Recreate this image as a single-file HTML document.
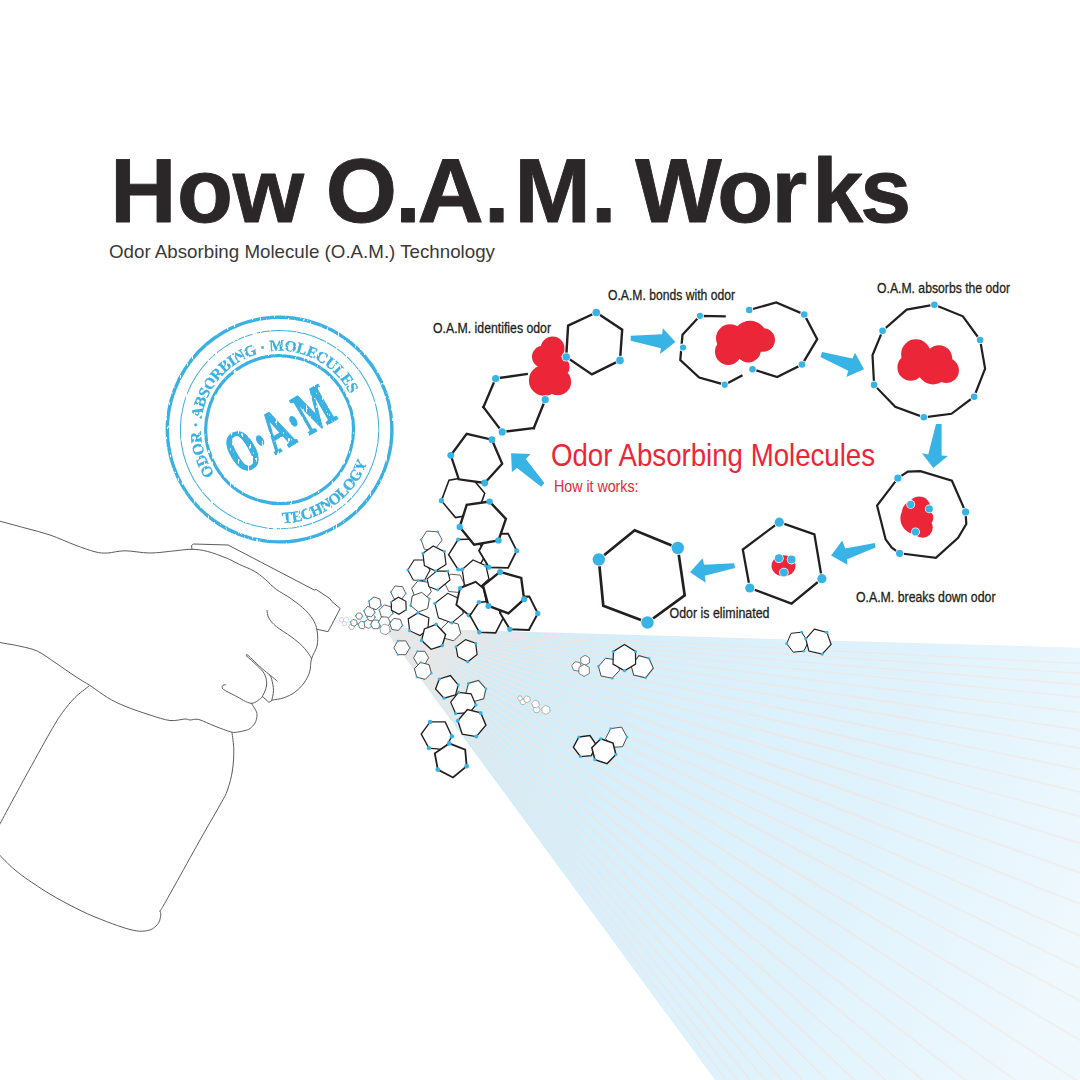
<!DOCTYPE html>
<html lang="en"><head><meta charset="utf-8"><title>How O.A.M. Works</title>
<style>
html,body{margin:0;padding:0;background:#fff;}
body{width:1080px;height:1080px;overflow:hidden;font-family:"Liberation Sans",sans-serif;}
svg{display:block;position:absolute;left:0;top:0;}
text{font-family:"Liberation Sans",sans-serif;}
.ser,.ser text{font-family:"Liberation Serif",serif;font-weight:bold;}
</style></head><body>
<svg width="1080" height="1080" viewBox="0 0 1080 1080">
<defs>
<linearGradient id="cg" gradientUnits="userSpaceOnUse" x1="400" y1="640" x2="1080" y2="900">
<stop offset="0" stop-color="#c6ebfb"/><stop offset="0.15" stop-color="#cdedfb"/><stop offset="0.4" stop-color="#d8f0fc"/><stop offset="0.7" stop-color="#e0f3fc"/><stop offset="0.9" stop-color="#e9f6fd"/><stop offset="1" stop-color="#eef8fd"/>
</linearGradient>
<radialGradient id="ag" gradientUnits="userSpaceOnUse" cx="385" cy="629" r="80">
<stop offset="0" stop-color="#e6e7e8" stop-opacity="1"/><stop offset="0.45" stop-color="#e6e7e8" stop-opacity="1"/><stop offset="1" stop-color="#e6e7e8" stop-opacity="0"/>
</radialGradient>
<linearGradient id="lg" gradientUnits="userSpaceOnUse" x1="400" y1="640" x2="1080" y2="900">
<stop offset="0" stop-color="#e6e7e8"/><stop offset="0.3" stop-color="#e8e7e7"/><stop offset="0.65" stop-color="#ece8e8"/><stop offset="1" stop-color="#f1eeee"/>
</linearGradient>
<filter id="grunge" x="-5%" y="-5%" width="110%" height="110%"><feTurbulence type="fractalNoise" baseFrequency="0.5 0.16" numOctaves="2" seed="7" result="n"/><feColorMatrix in="n" type="matrix" values="0 0 0 0 0  0 0 0 0 0  0 0 0 0 0  0 0 0 -14 10.1" result="m"/><feComposite in="SourceGraphic" in2="m" operator="in"/></filter>
<clipPath id="cc"><path d="M383 627.6 L1080 647.9 L1080 1080 L715.2 1080 Z"/></clipPath>
</defs>

<g clip-path="url(#cc)">
<rect x="380" y="620" width="700" height="460" fill="url(#lg)"/>
<g fill="url(#cg)" stroke="none">
<path d="M443 630.2 L1254.2 652.9 L1254.3 671.8Z"/>
<path d="M471 632.9 L1254.2 673.3 L1254.3 683.8Z"/>
<path d="M469.1 634.1 L1254.2 685.3 L1254.3 698Z"/>
<path d="M467 635.4 L1254.2 699.6 L1254.3 713.8Z"/>
<path d="M464.6 636.8 L1254.2 715.3 L1254.3 732.9Z"/>
<path d="M462 638.4 L1254.2 734.5 L1254.4 754.5Z"/>
<path d="M459.3 640 L1254.1 756.1 L1254.4 777.4Z"/>
<path d="M456.5 641.6 L1254.1 778.9 L1254.4 804.2Z"/>
<path d="M453.6 643.3 L1254.1 805.7 L1254.4 832.3Z"/>
<path d="M450.8 645 L1254.1 833.8 L1254.5 862.8Z"/>
<path d="M448.1 646.7 L1254 864.3 L1254.5 896.3Z"/>
<path d="M445.5 648.4 L1254 897.8 L1254.5 933.3Z"/>
<path d="M443.2 650.3 L1254 934.8 L1254.5 972.4Z"/>
<path d="M441.1 652.2 L1254 973.9 L1254.6 1012.3Z"/>
<path d="M439.5 654.1 L1253.9 1013.8 L1254.6 1052.6Z"/>
<path d="M438.2 656 L1253.9 1054 L1254.6 1093.4Z"/>
<path d="M437.1 658.3 L1253.9 1094.7 L1254.6 1142.6Z"/>
<path d="M436.3 661 L1253.9 1144 L1249.7 1192.4Z"/>
<path d="M435.9 663.9 L1248.8 1193.7 L1173.7 1192.4Z"/>
<path d="M435.7 667.1 L1172.8 1193.7 L1111.2 1192.4Z"/>
<path d="M435.7 670.3 L1110.3 1193.7 L1058 1192.5Z"/>
<path d="M435.8 673.7 L1057 1193.6 L1011.8 1192.5Z"/>
<path d="M436 677.1 L1010.7 1193.6 L972.3 1192.5Z"/>
<path d="M436.3 680.5 L971.2 1193.6 L937.7 1192.5Z"/>
<path d="M436.6 684 L936.6 1193.6 L907.6 1192.5Z"/>
<path d="M436.8 687.3 L906.4 1193.6 L882.2 1192.5Z"/>
<path d="M437 690.4 L881 1193.6 L861.3 1192.5Z"/>
<path d="M437.2 693.2 L860.2 1193.6 L842.9 1192.6Z"/>
<path d="M437.4 695.9 L841.6 1193.5 L826.6 1192.6Z"/>
<path d="M437.5 698.4 L825.4 1193.5 L812.7 1192.6Z"/>
<path d="M398 647.8 L811.5 1193.5 L798.2 1193Z"/>
</g>
</g>
<g fill="none" stroke="#5b5c5f" stroke-width="1" stroke-linecap="round" stroke-linejoin="round">
<path d="M-2 520.7C2.5 521.9 16.3 525.6 25 528C33.7 530.4 41.7 532.2 50 535C58.3 537.8 67.5 542.2 75 545C82.5 547.8 89.6 550.4 95 551.8C100.4 553.1 102.5 553.2 107.5 553C112.5 552.8 117.9 550.8 125 550.8C132.1 550.8 141.7 553 150 553C158.3 553 168 551.4 175 550.8C182 550.1 186.5 549.2 192 549.3C197.5 549.4 202.1 550 207.8 551.5C213.5 553 221.1 555.9 226.3 558C231.6 560.1 234.7 562.2 239.3 564.4C243.9 566.6 249.7 568.5 254 571C258.3 573.5 261.5 576.2 265.2 579.3C268.9 582.4 272 586.2 276.3 589.4C280.6 592.6 286.2 595.2 291.1 598.7C296 602.2 302 606.8 305.9 610.7C309.8 614.6 312.4 618.2 314.3 621.9C316.2 625.6 316.9 629 317.4 633C317.8 637 318 641.7 317 646C316 650.3 312.7 654.6 311.5 658.9C310.3 663.2 310.9 667.9 309.6 671.9C308.4 675.9 306.5 679.6 304 683C301.5 686.4 298.2 689.7 294.8 692.2C291.4 694.7 287.4 696.5 283.7 697.8C280 699.1 274.5 699.6 272.6 700"/>
<path d="M192 549.3 L191.5 545.5 L193.5 544 L228.1 545 L314.3 590 L316.1 589.4 L330 598.7 L331.9 601.5 L340.2 608.5 L328.1 631.7 L317 629.3"/>
<path d="M267 610.4C267.3 611.7 267.3 615.4 268.9 618.1C270.4 620.8 272.6 623.4 276.3 626.5C280 629.6 286.8 633.5 291.1 636.7C295.4 639.9 299.1 642.8 302.2 645.9C305.3 649 308.1 653 309.6 655.2C311.2 657.4 311.2 658.3 311.5 658.9"/>
<path d="M246.7 656.1C246.9 656 245.3 653.2 247.8 655.2C250.3 657.2 257.7 664.7 261.5 668.1C265.3 671.5 268.1 673.4 270.7 675.6C273.3 677.8 276.1 680.2 277.2 681.1"/>
<path d="M246.7 656.1C248.5 657.8 254.9 663.4 257.8 666.3C260.7 669.2 262.8 670.9 264.3 673.7C265.8 676.5 266.6 680.2 266.7 683C266.8 685.8 265.9 688.2 265.2 690.4C264.5 692.6 262.9 695.3 262.4 696.3"/>
<path d="M262.4 696.3 L268.9 702.4 L271.7 700.6"/>
<path d="M271.7 700.6C272 698.9 273.5 694 273.5 690.4C273.5 686.8 272.3 681.8 271.7 679.3C271.1 676.8 270.1 676.2 269.8 675.6"/>
<path d="M225.4 684.8C224.9 684.9 222.9 684.9 222.6 685.7C222.3 686.5 221.3 687.7 223.5 689.4C225.7 691.1 231 693.6 235.6 695.9C240.2 698.2 246.8 703.1 251.3 703.3C255.8 703.5 260.5 698 262.4 696.9"/>
<path d="M251.3 703.3C252.1 704.5 255 708.6 255.9 710.7C256.9 712.8 257.1 714 257 716C256.9 718 256.2 720.9 255 723C253.8 725.1 251.7 727.2 250 728.5C248.3 729.8 247 729.9 245 730.5C243 731.1 240.3 731.8 238 732C235.7 732.2 235.1 733 231.2 732C227.4 731 220.4 728.3 215 726.2C209.6 724.2 202.9 720.5 198.8 719.5C194.6 718.5 192.3 720.1 190 720C187.7 719.9 188.3 718.9 185 719C181.7 719.1 175.8 721.2 170 720.5C164.2 719.8 157.5 717.4 150 715C142.5 712.6 132.1 709.2 125 706.2C117.9 703.3 113.3 701 107.5 697.5C101.7 694 95.4 689 90 685.5C84.6 682 80.8 680.1 75 676.2C69.2 672.4 61.2 666.7 55 662.5C48.8 658.3 43.3 654 37.5 651.2C31.7 648.5 26.6 647.8 20 646.2C13.4 644.7 1.7 642.9 -2 642.2"/>
<path d="M88.8 686.2C86.5 688.1 79.4 693.1 75 697.5C70.6 701.9 66.7 706.7 62.5 712.5C58.3 718.3 56.2 721.7 50 732.5C43.8 743.3 33.7 761.7 25 777.5C16.3 793.3 2.5 819.2 -2 827.5"/>
<path d="M232 732.5C232.3 735.4 233.7 743.8 233.8 750C233.8 756.2 233.5 763.3 232.5 770C231.5 776.7 229.6 784.2 227.5 790C225.4 795.8 224.6 796.7 220 805C215.4 813.3 207.5 826.7 200 840C192.5 853.3 181 874.2 175 885C169 895.8 166.2 900.6 163.8 905C161.2 909.4 160.6 910.2 160 911.2"/>
<path d="M160 911.2C160.1 911.9 161 913.1 160.8 915C160.5 916.9 160.1 920.2 158.8 922.5C157.4 924.8 155.2 927.3 152.5 928.8C149.8 930.2 146.2 931.1 142.5 931.2C138.8 931.4 135 930.8 130 929.5C125 928.2 119.6 926.4 112.5 923.8C105.4 921.1 95.8 917.5 87.5 913.8C79.2 910 70.8 905.8 62.5 901.2C54.2 896.7 45.4 891.5 37.5 886.2C29.6 881 21.6 875.5 15 870C8.4 864.5 0.8 856.2 -2 853.5"/>
</g>
<g id="cluster">
<path d="M344.2 619.7 L342.9 621.9 L340.4 621.9 L339.2 619.7 L340.4 617.5 L342.9 617.5Z" fill="#fff" stroke="none"/>
<path d="M344.2 619.7 L342.9 621.9 L340.4 621.9 L339.2 619.7 L340.4 617.5 L342.9 617.5Z" fill="none" stroke="#b0b2b4" stroke-width="0.5" stroke-linejoin="miter"/>
<path d="M348.9 621 L346.6 623 L343.8 621.9 L343.3 619 L345.6 617 L348.4 618.1Z" fill="#fff" stroke="none"/>
<path d="M348.9 621 L346.6 623 L343.8 621.9 L343.3 619 L345.6 617 L348.4 618.1Z" fill="none" stroke="#b0b2b4" stroke-width="0.5" stroke-linejoin="miter"/>
<path d="M346.9 624 L345.3 625.9 L342.8 625.5 L341.9 623.2 L343.5 621.3 L346 621.7Z" fill="#fff" stroke="none"/>
<path d="M346.9 624 L345.3 625.9 L342.8 625.5 L341.9 623.2 L343.5 621.3 L346 621.7Z" fill="none" stroke="#b0b2b4" stroke-width="0.5" stroke-linejoin="miter"/>
<path d="M354.7 626.7 L353.2 629.3 L350.2 629.3 L348.7 626.7 L350.2 624.1 L353.2 624.1Z" fill="#fff" stroke="none"/>
<path d="M354.7 626.7 L353.2 629.3 L350.2 629.3 L348.7 626.7 L350.2 624.1 L353.2 624.1Z" fill="none" stroke="#8a8c8e" stroke-width="0.6" stroke-linejoin="miter"/>
<path d="M357.3 623.7 L354.8 626.2 L351.4 625.3 L350.5 621.9 L353 619.4 L356.4 620.3Z" fill="#fff" stroke="none"/>
<path d="M357.3 623.7 L354.8 626.2 L351.4 625.3 L350.5 621.9 L353 619.4 L356.4 620.3Z" fill="none" stroke="#4d4d4f" stroke-width="0.7" stroke-linejoin="miter"/>
<circle cx="357.3" cy="623.7" r="0.9" fill="#38b3e6"/>
<circle cx="350.5" cy="621.9" r="0.9" fill="#38b3e6"/>
<path d="M362.6 616.1 L360.9 619.1 L357.4 619.1 L355.6 616.1 L357.4 613.1 L360.9 613.1Z" fill="#fff" stroke="none"/>
<path d="M362.6 616.1 L360.9 619.1 L357.4 619.1 L355.6 616.1 L357.4 613.1 L360.9 613.1Z" fill="none" stroke="#4d4d4f" stroke-width="0.7" stroke-linejoin="miter"/>
<circle cx="362.6" cy="616.1" r="0.9" fill="#38b3e6"/>
<circle cx="355.6" cy="616.1" r="0.9" fill="#38b3e6"/>
<path d="M366.1 625.7 L363.6 628.8 L359.6 628.1 L358.3 624.3 L360.8 621.2 L364.8 621.9Z" fill="#fff" stroke="none"/>
<path d="M366.1 625.7 L363.6 628.8 L359.6 628.1 L358.3 624.3 L360.8 621.2 L364.8 621.9Z" fill="none" stroke="#4d4d4f" stroke-width="0.7" stroke-linejoin="miter"/>
<circle cx="366.1" cy="625.7" r="0.9" fill="#38b3e6"/>
<circle cx="358.3" cy="624.3" r="0.9" fill="#38b3e6"/>
<path d="M372.4 625.8 L368.7 628.4 L364.6 626.5 L364.2 622 L367.9 619.4 L372 621.3Z" fill="#fff" stroke="none"/>
<path d="M372.4 625.8 L368.7 628.4 L364.6 626.5 L364.2 622 L367.9 619.4 L372 621.3Z" fill="none" stroke="#4d4d4f" stroke-width="0.7" stroke-linejoin="miter"/>
<circle cx="372.4" cy="625.8" r="0.9" fill="#38b3e6"/>
<circle cx="364.2" cy="622" r="0.9" fill="#38b3e6"/>
<path d="M375.1 617.2 L373.1 620.7 L369.1 620.7 L367.1 617.2 L369.1 613.7 L373.1 613.7Z" fill="#fff" stroke="none"/>
<path d="M375.1 617.2 L373.1 620.7 L369.1 620.7 L367.1 617.2 L369.1 613.7 L373.1 613.7Z" fill="none" stroke="#4d4d4f" stroke-width="0.7" stroke-linejoin="miter"/>
<circle cx="375.1" cy="617.2" r="0.9" fill="#38b3e6"/>
<circle cx="367.1" cy="617.2" r="0.9" fill="#38b3e6"/>
<path d="M374.8 612.7 L371.3 616.9 L365.9 615.9 L364 610.7 L367.5 606.5 L372.9 607.5Z" fill="#fff" stroke="none"/>
<path d="M374.8 612.7 L371.3 616.9 L365.9 615.9 L364 610.7 L367.5 606.5 L372.9 607.5Z" fill="none" stroke="#4d4d4f" stroke-width="0.8" stroke-linejoin="miter"/>
<circle cx="374.8" cy="612.7" r="0.9" fill="#38b3e6"/>
<circle cx="364" cy="610.7" r="0.9" fill="#38b3e6"/>
<path d="M381.1 605.5 L376.1 609.7 L370 607.5 L368.9 601.1 L373.9 596.9 L380 599.1Z" fill="#fff" stroke="none"/>
<path d="M381.1 605.5 L376.1 609.7 L370 607.5 L368.9 601.1 L373.9 596.9 L380 599.1Z" fill="none" stroke="#4d4d4f" stroke-width="0.9" stroke-linejoin="miter"/>
<circle cx="381.1" cy="605.5" r="0.9" fill="#38b3e6"/>
<circle cx="368.9" cy="601.1" r="0.9" fill="#38b3e6"/>
<path d="M380.6 624.4 L378.1 628.7 L373.1 628.7 L370.6 624.4 L373.1 620.1 L378.1 620.1Z" fill="#fff" stroke="none"/>
<path d="M380.6 624.4 L378.1 628.7 L373.1 628.7 L370.6 624.4 L373.1 620.1 L378.1 620.1Z" fill="none" stroke="#4d4d4f" stroke-width="0.8" stroke-linejoin="miter"/>
<circle cx="380.6" cy="624.4" r="0.9" fill="#38b3e6"/>
<circle cx="370.6" cy="624.4" r="0.9" fill="#38b3e6"/>
<path d="M392.9 613.5 L387.9 618.5 L381.2 616.6 L379.3 609.9 L384.3 604.9 L391 606.8Z" fill="#fff" stroke="none"/>
<path d="M392.9 613.5 L387.9 618.5 L381.2 616.6 L379.3 609.9 L384.3 604.9 L391 606.8Z" fill="none" stroke="#4d4d4f" stroke-width="0.9" stroke-linejoin="miter"/>
<circle cx="392.9" cy="613.5" r="0.9" fill="#38b3e6"/>
<circle cx="379.3" cy="609.9" r="0.9" fill="#38b3e6"/>
<path d="M390.4 622.2 L387.4 627.4 L381.4 627.4 L378.4 622.2 L381.4 617 L387.4 617Z" fill="#fff" stroke="none"/>
<path d="M390.4 622.2 L387.4 627.4 L381.4 627.4 L378.4 622.2 L381.4 617 L387.4 617Z" fill="none" stroke="#4d4d4f" stroke-width="0.8" stroke-linejoin="miter"/>
<circle cx="390.4" cy="622.2" r="0.9" fill="#38b3e6"/>
<circle cx="378.4" cy="622.2" r="0.9" fill="#38b3e6"/>
<path d="M390.2 631.3 L386 634.8 L380.8 632.9 L379.8 627.5 L384 624 L389.2 625.9Z" fill="#fff" stroke="none"/>
<path d="M390.2 631.3 L386 634.8 L380.8 632.9 L379.8 627.5 L384 624 L389.2 625.9Z" fill="none" stroke="#8a8c8e" stroke-width="0.8" stroke-linejoin="miter"/>
<circle cx="390.2" cy="631.3" r="0.9" fill="#38b3e6"/>
<circle cx="379.8" cy="627.5" r="0.9" fill="#38b3e6"/>
<path d="M405.8 593.5 L401.5 599.6 L394 598.9 L390.8 592.1 L395.1 586 L402.6 586.7Z" fill="#fff" stroke="none"/>
<path d="M405.8 593.5 L401.5 599.6 L394 598.9 L390.8 592.1 L395.1 586 L402.6 586.7Z" fill="none" stroke="#4d4d4f" stroke-width="0.9" stroke-linejoin="miter"/>
<circle cx="405.8" cy="593.5" r="0.9" fill="#38b3e6"/>
<circle cx="390.8" cy="592.1" r="0.9" fill="#38b3e6"/>
<path d="M402.5 625.5 L398.3 630.5 L391.9 629.4 L389.7 623.3 L393.9 618.3 L400.3 619.4Z" fill="#fff" stroke="none"/>
<path d="M402.5 625.5 L398.3 630.5 L391.9 629.4 L389.7 623.3 L393.9 618.3 L400.3 619.4Z" fill="none" stroke="#4d4d4f" stroke-width="0.9" stroke-linejoin="miter"/>
<circle cx="402.5" cy="625.5" r="0.9" fill="#38b3e6"/>
<circle cx="389.7" cy="623.3" r="0.9" fill="#38b3e6"/>
<path d="M406.2 609.8 L399 614.3 L391.5 610.3 L391.2 601.8 L398.4 597.3 L405.9 601.3Z" fill="#fff" stroke="none"/>
<path d="M406.2 609.8 L399 614.3 L391.5 610.3 L391.2 601.8 L398.4 597.3 L405.9 601.3Z" fill="none" stroke="#231f20" stroke-width="1.2" stroke-linejoin="miter"/>
<circle cx="406.2" cy="609.8" r="0.9" fill="#38b3e6"/>
<circle cx="391.2" cy="601.8" r="0.9" fill="#38b3e6"/>
<path d="M409.8 647.8 L405.8 654.7 L397.8 654.7 L393.8 647.8 L397.8 640.9 L405.8 640.9Z" fill="#fff" stroke="none"/>
<path d="M409.8 647.8 L405.8 654.7 L397.8 654.7 L393.8 647.8 L397.8 640.9 L405.8 640.9Z" fill="none" stroke="#4d4d4f" stroke-width="0.9" stroke-linejoin="miter"/>
<circle cx="409.8" cy="647.8" r="1.1" fill="#38b3e6"/>
<circle cx="397.8" cy="654.7" r="1.1" fill="#38b3e6"/>
<circle cx="397.8" cy="640.9" r="1.1" fill="#38b3e6"/>
<path d="M428.6 657.8 L424.9 664.3 L417.4 664.3 L413.6 657.8 L417.4 651.3 L424.9 651.3Z" fill="#fff" stroke="none"/>
<path d="M428.6 657.8 L424.9 664.3 L417.4 664.3 L413.6 657.8 L417.4 651.3 L424.9 651.3Z" fill="none" stroke="#4d4d4f" stroke-width="0.9" stroke-linejoin="miter"/>
<circle cx="424.9" cy="664.3" r="1.1" fill="#38b3e6"/>
<circle cx="417.4" cy="651.3" r="1.1" fill="#38b3e6"/>
<path d="M431.4 673.2 L425.2 679.4 L416.7 677.1 L414.4 668.6 L420.6 662.4 L429.1 664.7Z" fill="#fff" stroke="none"/>
<path d="M431.4 673.2 L425.2 679.4 L416.7 677.1 L414.4 668.6 L420.6 662.4 L429.1 664.7Z" fill="none" stroke="#4d4d4f" stroke-width="1" stroke-linejoin="miter"/>
<circle cx="431.4" cy="673.2" r="1.2" fill="#38b3e6"/>
<circle cx="416.7" cy="677.1" r="1.2" fill="#38b3e6"/>
<circle cx="420.6" cy="662.4" r="1.2" fill="#38b3e6"/>
<path d="M421.1 539.6 L426.7 531.1 L437.8 531.8 L442.2 540 L434.4 550 L424.4 549.3Z" fill="#fff" stroke="none"/>
<path d="M421.1 539.6 L426.7 531.1 L437.8 531.8 L442.2 540 L434.4 550 L424.4 549.3Z" fill="none" stroke="#4d4d4f" stroke-width="0.9" stroke-linejoin="miter"/>
<circle cx="421.1" cy="539.6" r="1.2" fill="#38b3e6"/>
<circle cx="437.8" cy="531.8" r="1.2" fill="#38b3e6"/>
<path d="M407.8 570 L414 560 L423.3 560 L430 570 L424.4 580.4 L413.3 580Z" fill="#fff" stroke="none"/>
<path d="M407.8 570 L414 560 L423.3 560 L430 570 L424.4 580.4 L413.3 580Z" fill="none" stroke="#231f20" stroke-width="1.1" stroke-linejoin="miter"/>
<circle cx="407.8" cy="570" r="1.4" fill="#38b3e6"/>
<circle cx="424.4" cy="580.4" r="1.4" fill="#38b3e6"/>
<path d="M431.3 591.7 L424.9 599.4 L415.1 597.7 L411.7 588.3 L418.1 580.6 L427.9 582.3Z" fill="#fff" stroke="none"/>
<path d="M431.3 591.7 L424.9 599.4 L415.1 597.7 L411.7 588.3 L418.1 580.6 L427.9 582.3Z" fill="none" stroke="#4d4d4f" stroke-width="1" stroke-linejoin="miter"/>
<circle cx="424.9" cy="599.4" r="1.3" fill="#38b3e6"/>
<circle cx="418.1" cy="580.6" r="1.3" fill="#38b3e6"/>
<path d="M427.7 608.6 L418.3 612 L410.6 605.6 L412.3 595.8 L421.7 592.4 L429.4 598.8Z" fill="#fff" stroke="none"/>
<path d="M427.7 608.6 L418.3 612 L410.6 605.6 L412.3 595.8 L421.7 592.4 L429.4 598.8Z" fill="none" stroke="#4d4d4f" stroke-width="1" stroke-linejoin="miter"/>
<circle cx="410.6" cy="605.6" r="1.3" fill="#38b3e6"/>
<circle cx="429.4" cy="598.8" r="1.3" fill="#38b3e6"/>
<path d="M464.4 584.2 L458.6 592.4 L448.7 591.5 L444.4 582.4 L450.2 574.2 L460.1 575.1Z" fill="#fff" stroke="none"/>
<path d="M464.4 584.2 L458.6 592.4 L448.7 591.5 L444.4 582.4 L450.2 574.2 L460.1 575.1Z" fill="none" stroke="#4d4d4f" stroke-width="0.9" stroke-linejoin="miter"/>
<path d="M427.1 578.9 L436.7 571.1 L447.8 571.1 L450 580 L437.8 590 L428.9 586.7Z" fill="#fff" stroke="none"/>
<path d="M427.1 578.9 L436.7 571.1 L447.8 571.1 L450 580 L437.8 590 L428.9 586.7Z" fill="none" stroke="#231f20" stroke-width="1.1" stroke-linejoin="miter"/>
<circle cx="447.8" cy="571.1" r="1.4" fill="#38b3e6"/>
<circle cx="437.8" cy="590" r="1.4" fill="#38b3e6"/>
<path d="M422.9 553.3 L433.3 546 L444.4 551.6 L446 564.4 L435.6 571.1 L424.4 565.6Z" fill="#fff" stroke="none"/>
<path d="M422.9 553.3 L433.3 546 L444.4 551.6 L446 564.4 L435.6 571.1 L424.4 565.6Z" fill="none" stroke="#231f20" stroke-width="1.2" stroke-linejoin="miter"/>
<circle cx="422.9" cy="553.3" r="1.5" fill="#38b3e6"/>
<circle cx="444.4" cy="551.6" r="1.5" fill="#38b3e6"/>
<circle cx="435.6" cy="571.1" r="1.5" fill="#38b3e6"/>
<path d="M460.8 633.7 L453.7 640.8 L444 638.2 L441.4 628.5 L448.5 621.4 L458.2 624Z" fill="#fff" stroke="none"/>
<path d="M460.8 633.7 L453.7 640.8 L444 638.2 L441.4 628.5 L448.5 621.4 L458.2 624Z" fill="none" stroke="#4d4d4f" stroke-width="1" stroke-linejoin="miter"/>
<path d="M434.9 603.3 L447.8 593.3 L460 598.9 L463.3 613.3 L451.8 622.9 L438.4 617.8Z" fill="#fff" stroke="none"/>
<path d="M434.9 603.3 L447.8 593.3 L460 598.9 L463.3 613.3 L451.8 622.9 L438.4 617.8Z" fill="none" stroke="#231f20" stroke-width="1.1" stroke-linejoin="miter"/>
<circle cx="434.9" cy="603.3" r="1.6" fill="#38b3e6"/>
<circle cx="451.8" cy="622.9" r="1.6" fill="#38b3e6"/>
<path d="M417.8 612.9 L428.9 617.8 L427.8 630 L420 635.6 L409.6 630.7 L408.2 618.9Z" fill="#fff" stroke="none"/>
<path d="M417.8 612.9 L428.9 617.8 L427.8 630 L420 635.6 L409.6 630.7 L408.2 618.9Z" fill="none" stroke="#231f20" stroke-width="1.2" stroke-linejoin="miter"/>
<circle cx="417.8" cy="612.9" r="1.6" fill="#38b3e6"/>
<circle cx="409.6" cy="630.7" r="1.6" fill="#38b3e6"/>
<path d="M436.2 624.4 L445.6 634.4 L442.2 645.6 L431.1 649.3 L421.6 640.4 L424.4 628.9Z" fill="#fff" stroke="none"/>
<path d="M436.2 624.4 L445.6 634.4 L442.2 645.6 L431.1 649.3 L421.6 640.4 L424.4 628.9Z" fill="none" stroke="#231f20" stroke-width="1.4" stroke-linejoin="miter"/>
<circle cx="436.2" cy="624.4" r="1.8" fill="#38b3e6"/>
<circle cx="442.2" cy="645.6" r="1.8" fill="#38b3e6"/>
<circle cx="421.6" cy="640.4" r="1.8" fill="#38b3e6"/>
<path d="M458.1 539.6 L476.7 538.9 L486.2 554.1 L477 570 L458.1 569.6 L448.6 554.7Z" fill="#fff" stroke="none"/>
<path d="M458.1 539.6 L476.7 538.9 L486.2 554.1 L477 570 L458.1 569.6 L448.6 554.7Z" fill="none" stroke="#231f20" stroke-width="1.5" stroke-linejoin="miter"/>
<circle cx="458.1" cy="539.6" r="2" fill="#38b3e6"/>
<circle cx="458.1" cy="569.6" r="2" fill="#38b3e6"/>
<path d="M484.8 493.3 L477.2 513.9 L455.5 517.6 L441.4 500.7 L449 480.1 L470.7 476.4Z" fill="#fff" stroke="none"/>
<path d="M484.8 493.3 L477.2 513.9 L455.5 517.6 L441.4 500.7 L449 480.1 L470.7 476.4Z" fill="none" stroke="#231f20" stroke-width="1.6" stroke-linejoin="miter"/>
<circle cx="441.4" cy="500.7" r="2.6" fill="#38b3e6"/>
<path d="M462.2 569.6 L473 559.9 L485.9 565.6 L488.9 578.9 L478.5 588.5 L464.4 584.8Z" fill="#fff" stroke="none"/>
<path d="M462.2 569.6 L473 559.9 L485.9 565.6 L488.9 578.9 L478.5 588.5 L464.4 584.8Z" fill="none" stroke="#231f20" stroke-width="1.3" stroke-linejoin="miter"/>
<circle cx="462.2" cy="569.6" r="2" fill="#38b3e6"/>
<circle cx="485.9" cy="565.6" r="2" fill="#38b3e6"/>
<path d="M460 588.2 L475.6 581.9 L483.7 588.5 L487.4 605.6 L468.9 615.2 L456.3 604.8Z" fill="#fff" stroke="none"/>
<path d="M460 588.2 L475.6 581.9 L483.7 588.5 L487.4 605.6 L468.9 615.2 L456.3 604.8Z" fill="none" stroke="#231f20" stroke-width="1.8" stroke-linejoin="miter"/>
<circle cx="460" cy="588.2" r="2.2" fill="#38b3e6"/>
<circle cx="468.9" cy="615.2" r="2.2" fill="#38b3e6"/>
<path d="M478.9 602.2 L494.4 601.1 L503.3 617.8 L495.6 632.9 L479.3 632.2 L470 615.6Z" fill="#fff" stroke="none"/>
<path d="M478.9 602.2 L494.4 601.1 L503.3 617.8 L495.6 632.9 L479.3 632.2 L470 615.6Z" fill="none" stroke="#231f20" stroke-width="1.6" stroke-linejoin="miter"/>
<circle cx="478.9" cy="602.2" r="2.2" fill="#38b3e6"/>
<circle cx="479.3" cy="632.2" r="2.2" fill="#38b3e6"/>
<path d="M488.1 534 L508.1 533.7 L516.7 550.7 L508.1 567.8 L488.9 567.3 L479 550.7Z" fill="#fff" stroke="none"/>
<path d="M488.1 534 L508.1 533.7 L516.7 550.7 L508.1 567.8 L488.9 567.3 L479 550.7Z" fill="none" stroke="#231f20" stroke-width="1.8" stroke-linejoin="miter"/>
<circle cx="516.7" cy="550.7" r="2.5" fill="#38b3e6"/>
<circle cx="488.9" cy="567.3" r="2.5" fill="#38b3e6"/>
<path d="M508.9 596.7 L529.3 596.4 L537.8 613.4 L528.9 630 L509.9 629.3 L500 613Z" fill="#fff" stroke="none"/>
<path d="M508.9 596.7 L529.3 596.4 L537.8 613.4 L528.9 630 L509.9 629.3 L500 613Z" fill="none" stroke="#231f20" stroke-width="2" stroke-linejoin="miter"/>
<circle cx="537.8" cy="613.4" r="2.6" fill="#38b3e6"/>
<circle cx="509.9" cy="629.3" r="2.6" fill="#38b3e6"/>
<path d="M489.6 501.6 L505.9 518.9 L498.5 540.4 L474.1 544.8 L459.7 527 L466.7 504.8Z" fill="#fff" stroke="none"/>
<path d="M489.6 501.6 L505.9 518.9 L498.5 540.4 L474.1 544.8 L459.7 527 L466.7 504.8Z" fill="none" stroke="#231f20" stroke-width="2.4" stroke-linejoin="miter"/>
<circle cx="489.6" cy="501.6" r="3.2" fill="#38b3e6"/>
<circle cx="498.5" cy="540.4" r="3.2" fill="#38b3e6"/>
<circle cx="459.7" cy="527" r="3.2" fill="#38b3e6"/>
<path d="M500 571.9 L521.2 577.9 L524.1 599.2 L508.4 613.4 L488.4 605.9 L483 585.6Z" fill="#fff" stroke="none"/>
<path d="M500 571.9 L521.2 577.9 L524.1 599.2 L508.4 613.4 L488.4 605.9 L483 585.6Z" fill="none" stroke="#231f20" stroke-width="2.4" stroke-linejoin="miter"/>
<circle cx="500" cy="571.9" r="3" fill="#38b3e6"/>
<circle cx="524.1" cy="599.2" r="3" fill="#38b3e6"/>
<circle cx="488.4" cy="605.9" r="3" fill="#38b3e6"/>
<path d="M491.9 439.7 L502.2 463.7 L484.7 483 L458.8 479.3 L450.8 455.3 L466.7 433.8Z" fill="#fff" stroke="none"/>
<path d="M491.9 439.7 L502.2 463.7 L484.7 483 L458.8 479.3 L450.8 455.3 L466.7 433.8Z" fill="none" stroke="#231f20" stroke-width="2.3" stroke-linejoin="miter"/>
<circle cx="491.9" cy="439.7" r="3.4" fill="#38b3e6"/>
<circle cx="484.7" cy="483" r="3.4" fill="#38b3e6"/>
<circle cx="450.8" cy="455.3" r="3.4" fill="#38b3e6"/>
<path d="M456 646.7 L465.6 639.6 L475.6 643.3 L477.1 654.4 L467.8 661.8 L457.8 656.7Z" fill="#fff" stroke="none"/>
<path d="M456 646.7 L465.6 639.6 L475.6 643.3 L477.1 654.4 L467.8 661.8 L457.8 656.7Z" fill="none" stroke="#231f20" stroke-width="1.2" stroke-linejoin="miter"/>
<circle cx="456" cy="646.7" r="1.5" fill="#38b3e6"/>
<circle cx="475.6" cy="643.3" r="1.5" fill="#38b3e6"/>
<circle cx="467.8" cy="661.8" r="1.5" fill="#38b3e6"/>
<path d="M439.3 679 L450.4 675.6 L458.2 684.9 L455.6 694.8 L444 698.2 L435.6 688.9Z" fill="#fff" stroke="none"/>
<path d="M439.3 679 L450.4 675.6 L458.2 684.9 L455.6 694.8 L444 698.2 L435.6 688.9Z" fill="none" stroke="#231f20" stroke-width="1.3" stroke-linejoin="miter"/>
<circle cx="439.3" cy="679" r="1.6" fill="#38b3e6"/>
<circle cx="458.2" cy="684.9" r="1.6" fill="#38b3e6"/>
<circle cx="444" cy="698.2" r="1.6" fill="#38b3e6"/>
<path d="M468.4 683.4 L478.5 680.4 L485.9 688.9 L483.7 698.8 L474.1 701.5 L465.9 693.3Z" fill="#fff" stroke="none"/>
<path d="M468.4 683.4 L478.5 680.4 L485.9 688.9 L483.7 698.8 L474.1 701.5 L465.9 693.3Z" fill="none" stroke="#4d4d4f" stroke-width="1.1" stroke-linejoin="miter"/>
<circle cx="468.4" cy="683.4" r="1.3" fill="#38b3e6"/>
<circle cx="485.9" cy="688.9" r="1.3" fill="#38b3e6"/>
<path d="M458.5 692.3 L471.1 693.8 L475.9 704.9 L469.6 712.6 L455.6 713.6 L450.7 702.2Z" fill="#fff" stroke="none"/>
<path d="M458.5 692.3 L471.1 693.8 L475.9 704.9 L469.6 712.6 L455.6 713.6 L450.7 702.2Z" fill="none" stroke="#231f20" stroke-width="1.2" stroke-linejoin="miter"/>
<circle cx="458.5" cy="692.3" r="1.6" fill="#38b3e6"/>
<circle cx="475.9" cy="704.9" r="1.6" fill="#38b3e6"/>
<circle cx="455.6" cy="713.6" r="1.6" fill="#38b3e6"/>
<path d="M457.8 720.7 L467.4 709.6 L480.7 712.9 L485.9 725.2 L476.3 736.6 L462.2 734.1Z" fill="#fff" stroke="none"/>
<path d="M457.8 720.7 L467.4 709.6 L480.7 712.9 L485.9 725.2 L476.3 736.6 L462.2 734.1Z" fill="none" stroke="#231f20" stroke-width="1.4" stroke-linejoin="miter"/>
<circle cx="457.8" cy="720.7" r="2" fill="#38b3e6"/>
<circle cx="480.7" cy="712.9" r="2" fill="#38b3e6"/>
<circle cx="476.3" cy="736.6" r="2" fill="#38b3e6"/>
<path d="M430.1 721.9 L445.2 721.9 L451.9 736.3 L444.4 749.6 L428.9 748.1 L421.2 734.1Z" fill="#fff" stroke="none"/>
<path d="M430.1 721.9 L445.2 721.9 L451.9 736.3 L444.4 749.6 L428.9 748.1 L421.2 734.1Z" fill="none" stroke="#231f20" stroke-width="1.4" stroke-linejoin="miter"/>
<circle cx="430.1" cy="721.9" r="2.2" fill="#38b3e6"/>
<circle cx="451.9" cy="736.3" r="2.2" fill="#38b3e6"/>
<circle cx="428.9" cy="748.1" r="2.2" fill="#38b3e6"/>
<path d="M449.2 743.4 L465.2 749.6 L466.7 766.2 L453 777.5 L437.8 769.6 L434.8 753.3Z" fill="#fff" stroke="none"/>
<path d="M449.2 743.4 L465.2 749.6 L466.7 766.2 L453 777.5 L437.8 769.6 L434.8 753.3Z" fill="none" stroke="#231f20" stroke-width="1.8" stroke-linejoin="miter"/>
<circle cx="449.2" cy="743.4" r="2.4" fill="#38b3e6"/>
<circle cx="466.7" cy="766.2" r="2.4" fill="#38b3e6"/>
<circle cx="437.8" cy="769.6" r="2.4" fill="#38b3e6"/>
<path d="M522.5 698.2 L521.2 700.4 L518.8 700.4 L517.5 698.2 L518.8 696 L521.2 696Z" fill="#fff" stroke="none"/>
<path d="M522.5 698.2 L521.2 700.4 L518.8 700.4 L517.5 698.2 L518.8 696 L521.2 696Z" fill="none" stroke="#8a8c8e" stroke-width="0.6" stroke-linejoin="miter"/>
<path d="M526 702.5 L524 704.8 L521.1 704.3 L520 701.5 L522 699.2 L524.9 699.7Z" fill="#fff" stroke="none"/>
<path d="M526 702.5 L524 704.8 L521.1 704.3 L520 701.5 L522 699.2 L524.9 699.7Z" fill="none" stroke="#8a8c8e" stroke-width="0.6" stroke-linejoin="miter"/>
<path d="M530.3 700.5 L527.6 702.7 L524.3 701.5 L523.7 698.1 L526.4 695.9 L529.7 697.1Z" fill="#fff" stroke="none"/>
<path d="M530.3 700.5 L527.6 702.7 L524.3 701.5 L523.7 698.1 L526.4 695.9 L529.7 697.1Z" fill="none" stroke="#8a8c8e" stroke-width="0.6" stroke-linejoin="miter"/>
<path d="M540.1 709.9 L538.1 712.8 L534.6 712.5 L533.1 709.3 L535.1 706.4 L538.6 706.7Z" fill="#fff" stroke="none"/>
<path d="M540.1 709.9 L538.1 712.8 L534.6 712.5 L533.1 709.3 L535.1 706.4 L538.6 706.7Z" fill="none" stroke="#8a8c8e" stroke-width="0.6" stroke-linejoin="miter"/>
<path d="M539.5 705.1 L536.6 708 L532.8 706.9 L531.7 703.1 L534.6 700.2 L538.4 701.3Z" fill="#fff" stroke="none"/>
<path d="M539.5 705.1 L536.6 708 L532.8 706.9 L531.7 703.1 L534.6 700.2 L538.4 701.3Z" fill="none" stroke="#8a8c8e" stroke-width="0.6" stroke-linejoin="miter"/>
<path d="M550 711.8 L546.3 714.4 L542.2 712.5 L541.8 708 L545.5 705.4 L549.6 707.3Z" fill="#fff" stroke="none"/>
<path d="M550 711.8 L546.3 714.4 L542.2 712.5 L541.8 708 L545.5 705.4 L549.6 707.3Z" fill="none" stroke="#8a8c8e" stroke-width="0.6" stroke-linejoin="miter"/>
<path d="M589.4 662.8 L585.1 665.3 L580.8 662.8 L580.8 657.8 L585.1 655.3 L589.4 657.8Z" fill="#fff" stroke="none"/>
<path d="M589.4 662.8 L585.1 665.3 L580.8 662.8 L580.8 657.8 L585.1 655.3 L589.4 657.8Z" fill="none" stroke="#4d4d4f" stroke-width="0.7" stroke-linejoin="miter"/>
<circle cx="585.1" cy="665.3" r="0.7" fill="#38b3e6"/>
<path d="M581.6 667.3 L578.4 671.1 L573.5 670.2 L571.8 665.5 L575 661.7 L579.9 662.6Z" fill="#fff" stroke="none"/>
<path d="M581.6 667.3 L578.4 671.1 L573.5 670.2 L571.8 665.5 L575 661.7 L579.9 662.6Z" fill="none" stroke="#4d4d4f" stroke-width="0.7" stroke-linejoin="miter"/>
<circle cx="578.4" cy="671.1" r="0.7" fill="#38b3e6"/>
<path d="M589.3 673.4 L584.1 676.4 L578.9 673.4 L578.9 667.4 L584.1 664.4 L589.3 667.4Z" fill="#fff" stroke="none"/>
<path d="M589.3 673.4 L584.1 676.4 L578.9 673.4 L578.9 667.4 L584.1 664.4 L589.3 667.4Z" fill="none" stroke="#4d4d4f" stroke-width="0.7" stroke-linejoin="miter"/>
<circle cx="584.1" cy="676.4" r="0.7" fill="#38b3e6"/>
<path d="M598.4 666.4 L605.6 658.2 L616.7 660 L619.6 670.4 L612.2 678.2 L601.1 676Z" fill="#fff" stroke="none"/>
<path d="M598.4 666.4 L605.6 658.2 L616.7 660 L619.6 670.4 L612.2 678.2 L601.1 676Z" fill="none" stroke="#4d4d4f" stroke-width="1" stroke-linejoin="miter"/>
<circle cx="598.4" cy="666.4" r="1.3" fill="#38b3e6"/>
<circle cx="612.2" cy="678.2" r="1.3" fill="#38b3e6"/>
<path d="M638.9 655.6 L649 658.5 L653.3 668.1 L645.6 677.8 L633.7 675.1 L631.2 665.9Z" fill="#fff" stroke="none"/>
<path d="M638.9 655.6 L649 658.5 L653.3 668.1 L645.6 677.8 L633.7 675.1 L631.2 665.9Z" fill="none" stroke="#4d4d4f" stroke-width="1.1" stroke-linejoin="miter"/>
<circle cx="649" cy="658.5" r="1.3" fill="#38b3e6"/>
<circle cx="645.6" cy="677.8" r="1.3" fill="#38b3e6"/>
<path d="M624.5 644.4 L635.5 651.4 L635.6 664.1 L624.5 670.7 L613 664.1 L613.4 651.4Z" fill="#fff" stroke="none"/>
<path d="M624.5 644.4 L635.5 651.4 L635.6 664.1 L624.5 670.7 L613 664.1 L613.4 651.4Z" fill="none" stroke="#231f20" stroke-width="1.2" stroke-linejoin="miter"/>
<circle cx="635.5" cy="651.4" r="1.5" fill="#38b3e6"/>
<circle cx="624.5" cy="670.7" r="1.5" fill="#38b3e6"/>
<circle cx="613.4" cy="651.4" r="1.5" fill="#38b3e6"/>
<path d="M610.7 728.6 L621.6 727.1 L627 737 L622.6 746.7 L612.2 747.4 L605.6 738.5Z" fill="#fff" stroke="none"/>
<path d="M610.7 728.6 L621.6 727.1 L627 737 L622.6 746.7 L612.2 747.4 L605.6 738.5Z" fill="none" stroke="#4d4d4f" stroke-width="1" stroke-linejoin="miter"/>
<circle cx="610.7" cy="728.6" r="1.3" fill="#38b3e6"/>
<circle cx="627" cy="737" r="1.3" fill="#38b3e6"/>
<path d="M578.9 737 L590 735.6 L595.9 744.4 L591.5 755.6 L580.4 756.6 L573.4 747.1Z" fill="#fff" stroke="none"/>
<path d="M578.9 737 L590 735.6 L595.9 744.4 L591.5 755.6 L580.4 756.6 L573.4 747.1Z" fill="none" stroke="#231f20" stroke-width="1.4" stroke-linejoin="miter"/>
<circle cx="578.9" cy="737" r="1.5" fill="#38b3e6"/>
<circle cx="580.4" cy="756.6" r="1.5" fill="#38b3e6"/>
<path d="M600.8 738.8 L613 743 L615.9 754.5 L607 763.7 L594.9 759.7 L591.8 747.7Z" fill="#fff" stroke="none"/>
<path d="M600.8 738.8 L613 743 L615.9 754.5 L607 763.7 L594.9 759.7 L591.8 747.7Z" fill="none" stroke="#231f20" stroke-width="1.5" stroke-linejoin="miter"/>
<circle cx="600.8" cy="738.8" r="1.6" fill="#38b3e6"/>
<circle cx="615.9" cy="754.5" r="1.6" fill="#38b3e6"/>
<circle cx="594.9" cy="759.7" r="1.6" fill="#38b3e6"/>
<path d="M791.1 633.3 L801.7 632.2 L808 642.2 L803.9 651.1 L793.3 652.2 L786.7 643.7Z" fill="#fff" stroke="none"/>
<path d="M791.1 633.3 L801.7 632.2 L808 642.2 L803.9 651.1 L793.3 652.2 L786.7 643.7Z" fill="none" stroke="#231f20" stroke-width="1" stroke-linejoin="miter"/>
<circle cx="801.7" cy="632.2" r="1.4" fill="#38b3e6"/>
<circle cx="803.9" cy="651.1" r="1.4" fill="#38b3e6"/>
<circle cx="786.7" cy="643.7" r="1.4" fill="#38b3e6"/>
<path d="M814.4 629.1 L826.9 632.4 L831.1 644.4 L822.2 654.1 L808.9 651.1 L805.8 638.9Z" fill="#fff" stroke="none"/>
<path d="M814.4 629.1 L826.9 632.4 L831.1 644.4 L822.2 654.1 L808.9 651.1 L805.8 638.9Z" fill="none" stroke="#231f20" stroke-width="1.2" stroke-linejoin="miter"/>
<circle cx="826.9" cy="632.4" r="1.6" fill="#38b3e6"/>
<circle cx="822.2" cy="654.1" r="1.6" fill="#38b3e6"/>
<circle cx="805.8" cy="638.9" r="1.6" fill="#38b3e6"/>
</g>
<g id="diagram">
<path d="M495.6 378.5 L526.7 374.1 L545.2 399.7 L533.8 428.1 L502.2 431.9 L483.4 407.1Z" fill="#fff" stroke="none"/>
<path d="M495.6 378.5 L526.7 374.1" fill="none" stroke="#231f20" stroke-width="2.4" stroke-linecap="square"/>
<path d="M545.2 399.7 L533.8 428.1" fill="none" stroke="#231f20" stroke-width="2.4" stroke-linecap="square"/>
<path d="M533.8 428.1 L502.2 431.9" fill="none" stroke="#231f20" stroke-width="2.4" stroke-linecap="square"/>
<path d="M502.2 431.9 L483.4 407.1" fill="none" stroke="#231f20" stroke-width="2.4" stroke-linecap="square"/>
<path d="M483.4 407.1 L495.6 378.5" fill="none" stroke="#231f20" stroke-width="2.4" stroke-linecap="square"/>
<path d="M596.3 312.5 L622.2 329.7 L620 360.4 L591.9 374.4 L566.2 357 L568.1 325.6Z" fill="#fff" stroke="none"/>
<path d="M596.3 312.5 L622.2 329.7 L620 360.4 L591.9 374.4 L566.2 357 L568.1 325.6Z" fill="none" stroke="#231f20" stroke-width="2.4" stroke-linejoin="miter"/>
<circle cx="552.6" cy="348.5" r="11.9" fill="#eb2638"/>
<circle cx="543" cy="356.7" r="11" fill="#eb2638"/>
<circle cx="544.4" cy="380.4" r="15.5" fill="#eb2638"/>
<circle cx="557.8" cy="381.9" r="13.3" fill="#eb2638"/>
<circle cx="559.3" cy="367" r="10.4" fill="#eb2638"/>
<circle cx="548" cy="368" r="10" fill="#eb2638"/>
<circle cx="495.6" cy="378.5" r="4.4" fill="#fff"/>
<circle cx="495.6" cy="378.5" r="3.6" fill="#38b3e6"/>
<circle cx="545.2" cy="399.7" r="4.4" fill="#fff"/>
<circle cx="545.2" cy="399.7" r="3.6" fill="#38b3e6"/>
<circle cx="502.2" cy="431.9" r="4.4" fill="#fff"/>
<circle cx="502.2" cy="431.9" r="3.6" fill="#38b3e6"/>
<circle cx="596.3" cy="312.5" r="4.6" fill="#fff"/>
<circle cx="596.3" cy="312.5" r="3.8" fill="#38b3e6"/>
<circle cx="620" cy="360.4" r="4.6" fill="#fff"/>
<circle cx="620" cy="360.4" r="3.8" fill="#38b3e6"/>
<circle cx="566.2" cy="357" r="4.6" fill="#fff"/>
<circle cx="566.2" cy="357" r="3.8" fill="#38b3e6"/>
<g fill="#38b3e6">
<path d="M630.7 335.8 L662.1 334.3 L662.9 328.3 L675.4 342.1 L660 354 L661 348.2 L630.7 340.7Z"/>
<path d="M822.1 352.1 L852.5 358.5 L855 352.8 L864 369.2 L846.3 376.9 L848.3 370.8 L820.4 357.1Z"/>
<path d="M936 424 L941.6 424 L941.6 455.5 L947.8 456 L933.3 468.1 L921.9 453.3 L928.2 454.4Z"/>
<path d="M831.1 555.6 L842.2 540.4 L845.2 548.5 L874.8 543 L875.6 547.4 L847 559.3 L847.4 564.8Z"/>
<path d="M690 572.2 L702.5 558.3 L704.2 564.7 L734.2 563.3 L735 568 L704.7 575.8 L705.8 582.8Z"/>
<path d="M511.1 453.3 L530.4 454.1 L525.9 459 L544.4 483 L541.2 486.7 L517 468.1 L511.9 471.9Z"/>
</g>
<path d="M725.8 316.3 L700 315.8 L682.5 334.7 L680.3 360 L699.2 377.5 L724.7 384.7 L742.5 375.3" fill="none" stroke="#231f20" stroke-width="2.3"/>
<path d="M749.2 310 L776.2 302.5 L804.2 314.5 L817.2 339.2 L802 364.5 L777.2 377 L752.5 369.2" fill="none" stroke="#231f20" stroke-width="2.3"/>
<circle cx="730" cy="338.3" r="14" fill="#eb2638"/>
<circle cx="728.3" cy="351.7" r="13.3" fill="#eb2638"/>
<circle cx="750" cy="338.3" r="17.5" fill="#eb2638"/>
<circle cx="748.3" cy="350" r="12.5" fill="#eb2638"/>
<circle cx="763.3" cy="340" r="11.7" fill="#eb2638"/>
<circle cx="740" cy="345" r="14" fill="#eb2638"/>
<circle cx="700" cy="315.8" r="3.9" fill="#fff"/>
<circle cx="700" cy="315.8" r="3.1" fill="#38b3e6"/>
<circle cx="683" cy="347.5" r="3.9" fill="#fff"/>
<circle cx="683" cy="347.5" r="3.1" fill="#38b3e6"/>
<circle cx="724.7" cy="384.7" r="3.9" fill="#fff"/>
<circle cx="724.7" cy="384.7" r="3.1" fill="#38b3e6"/>
<circle cx="749.2" cy="310" r="4.1" fill="#fff"/>
<circle cx="749.2" cy="310" r="3.3" fill="#38b3e6"/>
<circle cx="804.2" cy="314.5" r="4.1" fill="#fff"/>
<circle cx="804.2" cy="314.5" r="3.3" fill="#38b3e6"/>
<circle cx="802" cy="364.5" r="4.1" fill="#fff"/>
<circle cx="802" cy="364.5" r="3.3" fill="#38b3e6"/>
<circle cx="752.5" cy="369.2" r="4.1" fill="#fff"/>
<circle cx="752.5" cy="369.2" r="3.3" fill="#38b3e6"/>
<path d="M934.4 304.7 L962.9 316.3 L980.1 340 L985.1 368.6 L974.1 396.7 L951.5 413.8 L923.8 417.3 L895.2 406.7 L874.1 384.9 L872.5 355.3 L882.6 330.7 L906.7 309.6Z" fill="none" stroke="#231f20" stroke-width="2.2"/>
<circle cx="915.9" cy="354.1" r="14.8" fill="#eb2638"/>
<circle cx="910.7" cy="367.4" r="13.3" fill="#eb2638"/>
<circle cx="938.9" cy="358.5" r="13.3" fill="#eb2638"/>
<circle cx="933" cy="368.9" r="15.5" fill="#eb2638"/>
<circle cx="946.3" cy="370.4" r="12.6" fill="#eb2638"/>
<circle cx="925" cy="362" r="14" fill="#eb2638"/>
<circle cx="934.4" cy="304.7" r="4.1" fill="#fff"/>
<circle cx="934.4" cy="304.7" r="3.3" fill="#38b3e6"/>
<circle cx="980.1" cy="340" r="4.1" fill="#fff"/>
<circle cx="980.1" cy="340" r="3.3" fill="#38b3e6"/>
<circle cx="974.1" cy="396.7" r="4.1" fill="#fff"/>
<circle cx="974.1" cy="396.7" r="3.3" fill="#38b3e6"/>
<circle cx="923.8" cy="417.3" r="4.1" fill="#fff"/>
<circle cx="923.8" cy="417.3" r="3.3" fill="#38b3e6"/>
<circle cx="874.1" cy="384.9" r="4.1" fill="#fff"/>
<circle cx="874.1" cy="384.9" r="3.3" fill="#38b3e6"/>
<circle cx="882.6" cy="330.7" r="4.1" fill="#fff"/>
<circle cx="882.6" cy="330.7" r="3.3" fill="#38b3e6"/>
<path d="M897.9 478.2 L907.8 471.6 L920.4 471.1 L951.9 480.7 L965.6 511.9 L966.3 524.1 L958.1 537.8 L935.9 557.8 L899.6 553.3 L891.8 547.7 L885.6 539.3 L877.1 505.6Z" fill="none" stroke="#231f20" stroke-width="2.2"/>
<circle cx="919.3" cy="507.6" r="11" fill="#eb2638"/>
<circle cx="915.9" cy="518.5" r="15.5" fill="#eb2638"/>
<circle cx="922.6" cy="527.6" r="10.2" fill="#eb2638"/>
<circle cx="913" cy="512" r="11" fill="#eb2638"/>
<circle cx="924.5" cy="518" r="8.8" fill="#eb2638"/>
<circle cx="897.9" cy="478.2" r="4.4" fill="#fff"/>
<circle cx="897.9" cy="478.2" r="3.6" fill="#38b3e6"/>
<circle cx="965.6" cy="511.9" r="4.4" fill="#fff"/>
<circle cx="965.6" cy="511.9" r="3.6" fill="#38b3e6"/>
<circle cx="899.6" cy="553.3" r="4.4" fill="#fff"/>
<circle cx="899.6" cy="553.3" r="3.6" fill="#38b3e6"/>
<circle cx="910.7" cy="504.4" r="4.4" fill="#fff"/>
<circle cx="910.7" cy="504.4" r="3.6" fill="#38b3e6"/>
<circle cx="929.3" cy="508.9" r="4.4" fill="#fff"/>
<circle cx="929.3" cy="508.9" r="3.6" fill="#38b3e6"/>
<circle cx="915.5" cy="531.9" r="4.4" fill="#fff"/>
<circle cx="915.5" cy="531.9" r="3.6" fill="#38b3e6"/>
<path d="M779.3 522.2 L814.4 534.3 L821.9 578.7 L791.5 603.7 L749.8 588 L742.8 549.6Z" fill="none" stroke="#231f20" stroke-width="2.3"/>
<ellipse cx="783.5" cy="565.8" rx="12" ry="10.5" fill="#eb2638"/>
<circle cx="779.3" cy="522.2" r="5.4" fill="#fff"/>
<circle cx="779.3" cy="522.2" r="4.6" fill="#38b3e6"/>
<circle cx="821.9" cy="578.7" r="5.4" fill="#fff"/>
<circle cx="821.9" cy="578.7" r="4.6" fill="#38b3e6"/>
<circle cx="749.8" cy="588" r="5.4" fill="#fff"/>
<circle cx="749.8" cy="588" r="4.6" fill="#38b3e6"/>
<circle cx="778.9" cy="558.3" r="4.8" fill="#fff"/>
<circle cx="778.9" cy="558.3" r="4" fill="#38b3e6"/>
<circle cx="791.5" cy="559.6" r="4.8" fill="#fff"/>
<circle cx="791.5" cy="559.6" r="4" fill="#38b3e6"/>
<circle cx="783.9" cy="572.6" r="4.8" fill="#fff"/>
<circle cx="783.9" cy="572.6" r="4" fill="#38b3e6"/>
<path d="M598.8 559.5 L634.7 530.3 L677.8 548 L684.7 595.3 L647.5 622.5 L603.3 605.8Z" fill="none" stroke="#231f20" stroke-width="2.7"/>
<circle cx="598.8" cy="559.5" r="7" fill="#fff"/>
<circle cx="598.8" cy="559.5" r="6.2" fill="#38b3e6"/>
<circle cx="677.8" cy="548" r="7" fill="#fff"/>
<circle cx="677.8" cy="548" r="6.2" fill="#38b3e6"/>
<circle cx="647.5" cy="622.5" r="7" fill="#fff"/>
<circle cx="647.5" cy="622.5" r="6.2" fill="#38b3e6"/>
</g>
<g id="stamp" filter="url(#grunge)"><g transform="translate(279.6 429.6) rotate(-30)" fill="none" stroke="#3ab0e2">
<circle r="112.3" stroke-width="3.4"/>
<circle r="99.2" stroke-width="1"/>
<circle r="73.8" stroke-width="3.2"/>
<text class="ser" font-size="15.6" fill="#3ab0e2" stroke="#3ab0e2" stroke-width="0.35" x="-78.8 -78.8 -77.3 -73.9 -69.2 -67.3 -64.5 -62.5 -55.2 -47.5 -40.6 -30.1 -19.7 -9.7 -4 7 18.6 22.3 27.1 30.6 43.2 52.5 59.6 65.7 71.2 75.2 77.7 78.8" y="6.1 -5.7 -16.5 -27.8 -37.8 -41 -45.3 -48.3 -56.5 -63 -67.8 -73 -76.5 -78.3 -78.9 -78.7 -76.6 -75.6 -74 -73 -66.2 -59 -51.8 -43.8 -34.3 -24.2 -14.4 -4.3" rotate="-90 -81.8 -73.5 -65.3 -60 -56.8 -53.5 -48.2 -40.6 -33.9 -26.5 -18.3 -10.7 -4.9 1.2 9.5 15.1 18.3 21.5 28.1 37.5 45.5 52.8 60.4 68.3 76 83.3 90" xml:space="preserve">ODOR · ABSORBING · MOLECULES</text>
<text class="ser" font-size="15.6" fill="#3ab0e2" stroke="#3ab0e2" stroke-width="0.35" x="-44.3 -35.1 -25.6 -14.9 -3.2 7.8 19.4 29.2 40.1 50.5" y="82.6 86.9 90.2 92.6 93.7 93.5 91.7 89.1 84.8 79" rotate="25 18.8 12.4 5.4 -1.5 -8.5 -15.2 -21.8 -29.1 -36" xml:space="preserve">TECHNOLOGY</text>
<text class="ser" transform="translate(-57 19.5) scale(0.61 1)" font-size="60" fill="#3ab0e2" stroke="#3ab0e2" stroke-width="1.6">O·A·M</text>
</g></g>
<g fill="#2b2728" stroke="#2b2728" stroke-width="0.9" stroke-linejoin="round" font-weight="bold" font-size="91.6">
<text x="110.2 176.9 232.7" y="221.5">How</text>
<text x="325.7 395.2 417.6 483.9 514.5 591" y="221.5">O.A.M.</text>
<text x="635.2 717.3 771.6 812.2 860.3" y="221.5">Works</text>
</g>
<text x="109" y="258.1" font-size="18.4" fill="#3b3838" textLength="386" lengthAdjust="spacingAndGlyphs">Odor Absorbing Molecule (O.A.M.) Technology</text>
<g fill="#231f20" stroke="#231f20" stroke-width="0.3" font-size="14">
<text x="433" y="333.3" textLength="118" lengthAdjust="spacingAndGlyphs">O.A.M. identifies odor</text>
<text x="608" y="300.3" textLength="127" lengthAdjust="spacingAndGlyphs">O.A.M. bonds with odor</text>
<text x="877" y="293" textLength="133" lengthAdjust="spacingAndGlyphs">O.A.M. absorbs the odor</text>
<text x="856" y="601.8" textLength="139.5" lengthAdjust="spacingAndGlyphs">O.A.M. breaks down odor</text>
<text x="669.5" y="618" textLength="100" lengthAdjust="spacingAndGlyphs">Odor is eliminated</text>
</g>
<text x="551" y="465.6" font-size="30.7" fill="#eb2638" textLength="324" lengthAdjust="spacingAndGlyphs">Odor Absorbing Molecules</text>
<text x="554" y="491.6" font-size="17" fill="#eb2638" textLength="84.5" lengthAdjust="spacingAndGlyphs">How it works:</text>
</svg></body></html>
